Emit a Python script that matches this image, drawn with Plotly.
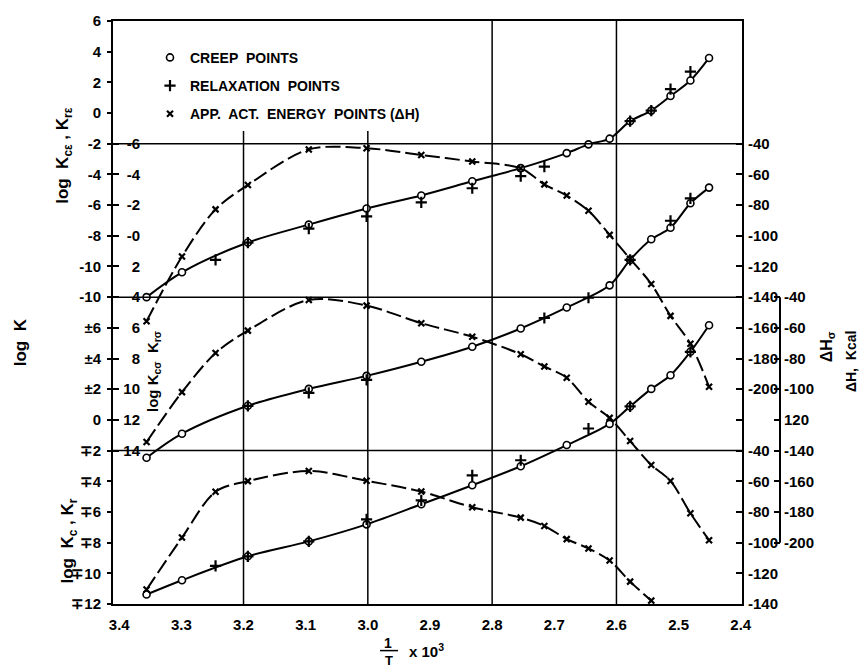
import plotly.graph_objects as go

# ---------------- data ----------------
# x = 1/T x 10^3
x_creep_eps = [3.356, 3.299, 3.193, 3.095, 3.002, 2.914, 2.832, 2.754, 2.680, 2.645, 2.611, 2.578, 2.544, 2.513, 2.481, 2.451]
creep_eps   = [-12.0, -10.38, -8.44, -7.27, -6.22, -5.37, -4.45, -3.59, -2.61, -2.04, -1.67, -0.53, 0.16, 1.11, 2.12, 3.59]
x_rel_eps   = [3.245, 3.193, 3.095, 3.002, 2.914, 2.832, 2.754, 2.716, 2.578, 2.544, 2.513, 2.481]
rel_eps     = [-9.57, -8.44, -7.53, -6.74, -5.82, -4.90, -4.11, -3.49, -0.53, 0.16, 1.56, 2.70]

x_creep_sig = [3.356, 3.299, 3.193, 3.095, 3.002, 2.914, 2.832, 2.754, 2.680, 2.611, 2.578, 2.544, 2.513, 2.481, 2.451]
creep_sig   = [14.47, 12.90, 11.08, 9.98, 9.13, 8.21, 7.23, 6.04, 4.67, 3.23, 1.57, 0.23, -0.52, -2.12, -3.14]
x_rel_sig   = [3.193, 3.095, 3.002, 2.716, 2.645, 2.578, 2.513, 2.481]
rel_sig     = [11.08, 10.24, 9.39, 5.36, 4.04, 1.57, -0.98, -2.44]

x_creep_c = [3.356, 3.299, 3.193, 3.095, 3.002, 2.914, 2.832, 2.754, 2.680, 2.611, 2.578, 2.544, 2.513, 2.481, 2.451]
creep_c   = [-11.38, -10.45, -8.89, -7.92, -6.81, -5.50, -4.26, -3.02, -1.64, -0.26, 0.88, 2.02, 2.91, 4.44, 6.17]
x_rel_c   = [3.245, 3.193, 3.095, 3.002, 2.914, 2.832, 2.754, 2.645, 2.578, 2.481]
rel_c     = [-9.51, -8.89, -7.92, -6.49, -5.25, -3.61, -2.63, -0.56, 0.88, 4.44]

x_dh_eps = [3.356, 3.299, 3.245, 3.193, 3.095, 3.002, 2.914, 2.832, 2.754, 2.716, 2.680, 2.645, 2.611, 2.578, 2.544, 2.513, 2.481, 2.451]
dh_eps   = [-155.7, -113.5, -82.8, -66.9, -43.7, -42.9, -47.3, -51.6, -56.0, -66.5, -73.8, -83.7, -99.4, -115.0, -131.4, -152.2, -170.4, -198.4]

x_dh_sig = [3.356, 3.299, 3.245, 3.193, 3.095, 3.002, 2.914, 2.832, 2.754, 2.716, 2.680, 2.645, 2.611, 2.578, 2.544, 2.513, 2.481, 2.451]
dh_sig   = [-134.4, -101.9, -76.4, -61.8, -41.8, -45.5, -57.0, -65.8, -77.2, -85.2, -92.5, -108.2, -118.7, -133.8, -149.4, -159.8, -180.8, -198.4]

x_dh_c = [3.356, 3.299, 3.245, 3.193, 3.095, 3.002, 2.914, 2.832, 2.754, 2.716, 2.680, 2.645, 2.611, 2.578, 2.544]
dh_c   = [-130.6, -96.7, -66.8, -59.9, -53.3, -59.7, -66.7, -76.9, -83.7, -89.1, -97.7, -103.8, -111.6, -125.4, -137.8]

# tick labels
x_tickvals = [3.4, 3.3, 3.2, 3.1, 3.0, 2.9, 2.8, 2.7, 2.6, 2.5, 2.4]
x_ticktext = ["3.4", "3.3", "3.2", "3.1", "3.0", "2.9", "2.8", "2.7", "2.6", "2.5", "2.4"]
left_tickvals = [6, 4, 2, 0, -2, -4, -6, -8, -10, -12, -14, -16, -18, -20, -22, -24, -26, -28, -30, -32]
left_ticktext = ["6", "4", "2", "0", "-2", "-4", "-6", "-8", "-10", "-10", "±6", "±4", "±2", "0",
                 "∓2", "∓4", "∓6", "∓8", "∓10", "∓12"]
inner_tickvals = [-6, -4, -2, 0, 2, 4, 6, 8, 10, 12, 14]
inner_ticktext = ["-6", "-4", "-2", "-0", "2", "4", "6", "8", "10", "12", "14"]
r1_tickvals = [-40, -60, -80, -100, -120, -140, -160, -180, -200, -220, -240, -260, -280, -300, -320, -340]
r1_ticktext = ["-40", "-60", "-80", "-100", "-120", "-140", "-160", "-180", "-200", "",
               "-40", "-60", "-80", "-100", "-120", "-140"]
r2_tickvals = [-40, -60, -80, -100, -120, -140, -160, -180, -200]
r2_ticktext = ["-40", "-60", "-80", "-100", "120", "-140", "-160", "-180", "-200"]

# ---------------- layout helpers ----------------
W, H = 861, 669
L, R, T, B = 113, 800, 16, 604
PW, PH = R - L, B - T
def px(v): return (v - L) / PW
def py(v): return 1 - (v - T) / PH
X_DOM = (742 - L) / PW

FONT = "Liberation Sans"
BLK = "black"
tickfont = dict(family=FONT, size=15, color=BLK, weight="bold")

fig = go.Figure()

def add_line(x, y, yax, dash=None):
    fig.add_trace(go.Scatter(x=x, y=y, yaxis=yax, mode="lines",
                             line=dict(color=BLK, width=2, shape="spline", smoothing=0.9, dash=dash),
                             showlegend=False, hoverinfo="skip"))

def add_marks(x, y, yax, kind, name=None, show=False):
    if kind == "o":
        m = dict(symbol="circle", size=7, color="white", line=dict(color=BLK, width=1.6))
    elif kind == "+":
        m = dict(symbol="cross-thin-open", size=8, color=BLK, line=dict(color=BLK, width=2.2))
    else:
        m = dict(symbol="x-thin-open", size=6, color=BLK, line=dict(color=BLK, width=2.2))
    fig.add_trace(go.Scatter(x=x, y=y, yaxis=yax, mode="markers", marker=m,
                             name=name, showlegend=show, legendgroup=name or kind,
                             hoverinfo="skip"))

DASH = "15px,5px"
# epsilon panel
add_line(x_creep_eps, creep_eps, "y")
add_line(x_dh_eps, dh_eps, "y4", DASH)
# sigma panel
add_line(x_creep_sig, creep_sig, "y2")
add_line(x_dh_sig, dh_sig, "y6", DASH)
# bottom panel
add_line(x_creep_c, creep_c, "y3")
add_line(x_dh_c, dh_c, "y5", DASH)

add_marks(x_dh_eps, dh_eps, "y4", "x", "APP.\u00a0 ACT.\u00a0 ENERGY\u00a0 POINTS (ΔH)", True)
add_marks(x_dh_sig, dh_sig, "y6", "x")
add_marks(x_dh_c, dh_c, "y5", "x")
add_marks(x_creep_eps, creep_eps, "y", "o", "CREEP\u00a0 POINTS", True)
add_marks(x_creep_sig, creep_sig, "y2", "o")
add_marks(x_creep_c, creep_c, "y3", "o")
add_marks(x_rel_eps, rel_eps, "y", "+", "RELAXATION\u00a0 POINTS", True)
add_marks(x_rel_sig, rel_sig, "y2", "+")
add_marks(x_rel_c, rel_c, "y3", "+")

for tr in fig.data:
    if tr.showlegend:
        tr.legendrank = {"C": 1, "R": 2, "A": 3}[tr.name[0]]

axcommon = dict(showgrid=False, zeroline=False)

fig.update_layout(
    width=W, height=H,
    margin=dict(l=L, r=W - R, t=T, b=H - B),
    paper_bgcolor="white", plot_bgcolor="white",
    font=dict(family=FONT, color=BLK),
    xaxis=dict(domain=[0, X_DOM], range=[3.41, 2.398], tickvals=x_tickvals, ticktext=x_ticktext,
               showline=True, mirror=True, linecolor=BLK, linewidth=2, ticks="",
               tickfont=tickfont, ticklabelstandoff=6, **axcommon),
    # outer left column (log K_ce, K_re scale)
    yaxis=dict(range=[-32, 6], tickvals=left_tickvals, ticktext=left_ticktext,
               showline=True, linecolor=BLK, linewidth=2, ticks="outside", ticklen=4,
               tickcolor=BLK, tickwidth=1.5, tickfont=tickfont, ticklabelstandoff=3, **axcommon),
    # inner column (log K_c-sigma), labels placed just inside the frame
    yaxis2=dict(overlaying="y", anchor="free", position=px(141), side="left", range=[24, -14],
                tickvals=inner_tickvals, ticktext=inner_ticktext, ticks="",
                tickfont=tickfont, ticklabelstandoff=1, showline=False, **axcommon),
    # bottom panel scale (log K_c, K_r); short inside ticks on the frame for the inner column
    yaxis3=dict(overlaying="y", anchor="x", side="left", range=[-12, 26],
                tickvals=[18, 16, 14, 12, 10, 8, 6, 4, 2, 0, -2],
                showticklabels=False, ticks="inside", ticklen=6, tickcolor=BLK, tickwidth=1.5,
                showline=False, **axcommon),
    yaxis4=dict(overlaying="y", anchor="x", side="right", range=[-340, 40],
                tickvals=r1_tickvals, ticktext=r1_ticktext, ticks="inside", ticklen=6,
                tickcolor=BLK, tickwidth=1.5, showline=True, linecolor=BLK, linewidth=2,
                tickfont=tickfont, ticklabelstandoff=1, **axcommon),
    yaxis5=dict(overlaying="y", anchor="x", range=[-140, 240], visible=False, **axcommon),
    yaxis6=dict(overlaying="y", anchor="free", position=px(780), side="right", range=[-240, 140],
                tickvals=r2_tickvals, ticktext=r2_ticktext, ticks="inside", ticklen=6,
                tickcolor=BLK, tickwidth=1.5, showline=False, tickfont=tickfont,
                ticklabelstandoff=3, **axcommon),
    legend=dict(x=px(150), y=py(37), xanchor="left", yanchor="top", bgcolor="rgba(0,0,0,0)",
                font=dict(family=FONT, size=14, color=BLK, weight="bold"),
                tracegroupgap=7, itemwidth=30),
    showlegend=True,
)

shapes = []
# horizontal panel separators
for yv in [-2, -12, -22]:
    shapes.append(dict(type="line", xref="x domain", yref="y", x0=0, x1=1, y0=yv, y1=yv,
                       line=dict(color=BLK, width=1.5)))
# vertical grid lines
for xv, top in [(3.2, py(127)), (3.0, py(127)), (2.8, 1), (2.6, 1)]:
    shapes.append(dict(type="line", xref="x", yref="y domain", x0=xv, x1=xv, y0=0, y1=top,
                       line=dict(color=BLK, width=1.5)))
# second right axis line (ΔHσ)
shapes.append(dict(type="line", xref="paper", yref="y6", x0=px(780), x1=px(780), y0=-40, y1=-200,
                   line=dict(color=BLK, width=2)))
# fraction bar in x title
shapes.append(dict(type="line", xref="paper", yref="paper", x0=px(380), x1=px(398),
                   y0=py(651), y1=py(651), line=dict(color=BLK, width=1.5)))
fig.update_layout(shapes=shapes)

def ann(text, x, y, size, angle=0, **kw):
    fig.add_annotation(text=text, x=px(x), y=py(y), xref="paper", yref="paper", showarrow=False,
                       textangle=angle, xanchor="center", yanchor="middle",
                       font=dict(family=FONT, size=size, color=BLK, weight="bold"), **kw)

ann("log\u00a0 K", 20, 340, 17, -90)
ann("log\u00a0 K<sub>cε</sub> , K<sub>rε</sub>", 64, 152, 17, -90)
ann("log\u00a0 K<sub>c</sub> , K<sub>r</sub>", 69, 541, 17, -90)
ann("log K<sub>cσ</sub>\u00a0 K<sub>rσ</sub>", 154, 370, 15, -90)
ann("ΔH<sub>σ</sub>", 827, 345, 16, -90)
ann("ΔH,\u00a0 Kcal", 851, 360, 14, -90)
ann("1", 388, 643, 14)
ann("T", 389, 661, 13)
ann("x 10<sup>3</sup>", 426, 651, 15)

fig.write_html("out.html")
